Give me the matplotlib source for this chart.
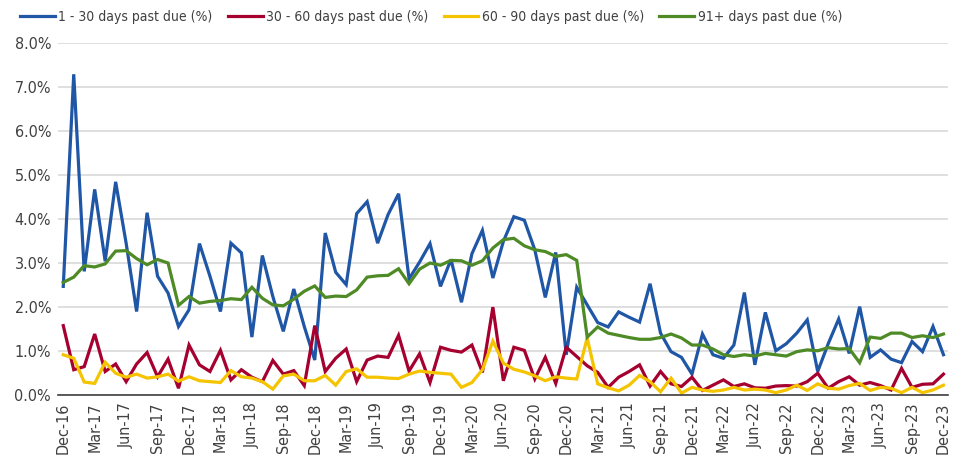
import matplotlib.pyplot as plt
import pandas as pd

# monthly delinquency rates, Dec-16 .. Dec-23 (values in %)
months = pd.date_range("2016-12-01", "2023-12-01", freq="MS")

dpd_1_30 = [2.47, 7.28, 2.81, 4.67, 3.04, 4.84, 3.45, 1.90, 4.14, 2.70, 2.32, 1.56,
            1.94, 3.44, 2.70, 1.90, 3.45, 3.23, 1.32, 3.17, 2.24, 1.45, 2.41, 1.56,
            0.80, 3.68, 2.79, 2.51, 4.12, 4.39, 3.45, 4.10, 4.57, 2.64, 3.02, 3.44,
            2.47, 3.08, 2.11, 3.21, 3.74, 2.66, 3.49, 4.05, 3.97, 3.30, 2.22, 3.24,
            0.92, 2.45, 2.05, 1.65, 1.55, 1.89, 1.77, 1.66, 2.53, 1.41, 0.99, 0.86,
            0.48, 1.39, 0.92, 0.84, 1.14, 2.33, 0.69, 1.88, 1.01, 1.17, 1.41, 1.71,
            0.54, 1.17, 1.73, 0.95, 2.01, 0.86, 1.03, 0.82, 0.74, 1.22, 0.99, 1.56,
            0.92]
dpd_30_60 = [1.58, 0.58, 0.65, 1.39, 0.54, 0.71, 0.31, 0.71, 0.97, 0.42, 0.82, 0.16,
             1.14, 0.69, 0.54, 1.02, 0.35, 0.58, 0.41, 0.31, 0.79, 0.48, 0.56, 0.22,
             1.58, 0.54, 0.84, 1.05, 0.31, 0.80, 0.89, 0.86, 1.36, 0.55, 0.94, 0.29,
             1.09, 1.02, 0.98, 1.14, 0.52, 2.00, 0.33, 1.09, 1.02, 0.37, 0.86, 0.27,
             1.09, 0.88, 0.67, 0.52, 0.18, 0.41, 0.54, 0.69, 0.21, 0.54, 0.26, 0.20,
             0.41, 0.11, 0.23, 0.35, 0.20, 0.26, 0.17, 0.16, 0.21, 0.22, 0.21, 0.31,
             0.50, 0.16, 0.31, 0.42, 0.23, 0.29, 0.22, 0.12, 0.61, 0.18, 0.25, 0.26,
             0.48]
dpd_60_90 = [0.92, 0.84, 0.30, 0.27, 0.75, 0.50, 0.41, 0.48, 0.39, 0.42, 0.48, 0.32,
             0.42, 0.33, 0.31, 0.29, 0.56, 0.42, 0.39, 0.31, 0.14, 0.44, 0.48, 0.33,
             0.33, 0.45, 0.23, 0.54, 0.60, 0.41, 0.41, 0.39, 0.38, 0.48, 0.55, 0.52,
             0.50, 0.48, 0.18, 0.29, 0.58, 1.23, 0.73, 0.59, 0.53, 0.44, 0.33, 0.42,
             0.39, 0.37, 1.30, 0.26, 0.17, 0.10, 0.23, 0.45, 0.31, 0.08, 0.39, 0.05,
             0.18, 0.12, 0.09, 0.12, 0.18, 0.12, 0.14, 0.12, 0.06, 0.12, 0.23, 0.11,
             0.26, 0.16, 0.14, 0.22, 0.27, 0.11, 0.18, 0.16, 0.06, 0.18, 0.06, 0.12,
             0.23]
dpd_91_plus = [2.56, 2.68, 2.94, 2.91, 2.98, 3.27, 3.28, 3.10, 2.96, 3.08, 3.00, 2.04,
               2.24, 2.09, 2.13, 2.15, 2.19, 2.17, 2.45, 2.20, 2.05, 2.03, 2.18, 2.36,
               2.48, 2.22, 2.25, 2.24, 2.39, 2.68, 2.71, 2.72, 2.87, 2.53, 2.86, 3.00,
               2.95, 3.06, 3.05, 2.95, 3.05, 3.34, 3.53, 3.56, 3.39, 3.30, 3.26, 3.15,
               3.19, 3.06, 1.32, 1.55, 1.41, 1.36, 1.31, 1.27, 1.27, 1.31, 1.39, 1.30,
               1.14, 1.14, 1.05, 0.92, 0.88, 0.92, 0.89, 0.95, 0.92, 0.89, 0.99, 1.03,
               1.01, 1.08, 1.05, 1.06, 0.74, 1.32, 1.29, 1.41, 1.41, 1.31, 1.35, 1.31,
               1.39]

series = [
    ("1 - 30 days past due (%)", dpd_1_30, "#1f56a5"),
    ("30 - 60 days past due (%)", dpd_30_60, "#a5002f"),
    ("60 - 90 days past due (%)", dpd_60_90, "#f5c400"),
    ("91+ days past due (%)", dpd_91_plus, "#4e8a25"),
]

plt.rcParams['font.family'] = ['DejaVu Sans']
plt.rcParams['font.stretch'] = 'condensed'
text_col = "#404040"

fig = plt.figure(figsize=(9.67, 4.57), dpi=100)
ax = fig.add_axes([0.060, 0.135, 0.920, 0.772])

x = range(len(months))
for name, vals, col in series:
    ax.plot(x, [v / 100 for v in vals], color=col, lw=2.3, label=name,
            solid_joinstyle='miter')

ax.set_ylim(0, 0.08)
ax.set_xlim(-0.5, 84.4)
ax.set_yticks([i / 100 for i in range(9)])
ax.yaxis.set_major_formatter(plt.FuncFormatter(lambda v, _: f"{v * 100:.1f}%"))
tick_idx = list(range(0, len(months), 3))
ax.set_xticks(tick_idx)
ax.set_xticklabels([months[i].strftime("%b-%y") for i in tick_idx], rotation=90)

ax.grid(axis='y', color="#d9d9d9", lw=1.2)
ax.set_axisbelow(True)
for s in ['top', 'right', 'left']:
    ax.spines[s].set_visible(False)
ax.spines['bottom'].set_color("#404040")
ax.spines['bottom'].set_linewidth(1.2)
ax.tick_params(length=0, labelsize=11.5, colors=text_col, pad=5)

fig.legend(loc='upper left', bbox_to_anchor=(0.008, 1.006), ncol=4, frameon=False,
           fontsize=10, handlelength=2.5, handletextpad=0.25, columnspacing=1.1,
           labelcolor=text_col)

fig.savefig("out.png", dpi=100)
